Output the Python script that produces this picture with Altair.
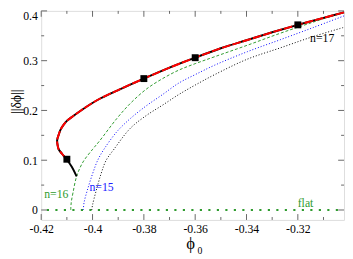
import altair as alt
import pandas as pd

# main branch (black solid, red dashed overlay down to 4th square)
main_x = [-0.302, -0.31, -0.32, -0.33, -0.34, -0.35, -0.36, -0.37, -0.38, -0.39, -0.397, -0.401,
          -0.4045, -0.4075, -0.4100, -0.4113, -0.4125, -0.4132, -0.4138, -0.4136, -0.4132, -0.4119,
          -0.4103, -0.4081, -0.4062]
main_y = [0.397, 0.386, 0.372, 0.357, 0.341, 0.325, 0.306, 0.286, 0.264, 0.241, 0.224, 0.212,
          0.200, 0.189, 0.179, 0.171, 0.161, 0.151, 0.140, 0.130, 0.122, 0.113,
          0.103, 0.087, 0.0675]
red_count = 23

n16_x = [-0.4085, -0.4083, -0.4076, -0.4062, -0.4037, -0.3999, -0.3973, -0.3905, -0.3853, -0.379,
         -0.3727, -0.3664, -0.36, -0.3524, -0.3397, -0.3269, -0.3143, -0.302]
n16_y = [0.0, 0.015, 0.035, 0.0675, 0.0965, 0.1224, 0.1385, 0.184, 0.214, 0.243,
         0.264, 0.281, 0.294, 0.308, 0.331, 0.355, 0.377, 0.398]

n15_x = [-0.4036, -0.4033, -0.4019, -0.3999, -0.398, -0.3955, -0.3904, -0.3853, -0.379, -0.3727,
         -0.3664, -0.36, -0.3524, -0.3397, -0.3269, -0.3143, -0.302]
n15_y = [0.0, 0.015, 0.042, 0.074, 0.0998, 0.1224, 0.158, 0.1836, 0.2095, 0.232,
         0.255, 0.272, 0.291, 0.318, 0.342, 0.366, 0.39]

n17_x = [-0.4003, -0.4, -0.3986, -0.3966, -0.3947, -0.3916, -0.3853, -0.379, -0.3727, -0.3664,
         -0.36, -0.3524, -0.3397, -0.3269, -0.3143, -0.302]
n17_y = [0.0, 0.01, 0.0385, 0.074, 0.0998, 0.1224, 0.164, 0.19, 0.2107, 0.232,
         0.251, 0.272, 0.303, 0.3256, 0.348, 0.367]

flat_x = [-0.4178, -0.302]
flat_y = [0.0, 0.0]

sq_x = [-0.41, -0.38, -0.36, -0.32]
sq_y = [0.102, 0.264, 0.306, 0.372]

lab_text = ["n=16", "n=15", "n=17", "flat"]
lab_x = [-0.4141, -0.3965, -0.3105, -0.317]
lab_y = [0.032, 0.046, 0.345, 0.0147]
lab_color = ["#2e9b2e", "#2020ff", "#000000", "#2e9b2e"]

x_major = [-0.42, -0.4, -0.38, -0.36, -0.34, -0.32]
x_minor = [-0.41, -0.39, -0.37, -0.35, -0.33, -0.31]
y_major = [0, 0.1, 0.2, 0.3, 0.4]
y_minor = [0.05, 0.15, 0.25, 0.35]

W, H = 310, 214
FONT = "Liberation Serif"
GREEN = "#2e9b2e"
FRAME = "#666666"
INTERP = "catmull-rom"

xs = alt.Scale(domain=[-0.42, -0.302], nice=False, zero=False)
ys = alt.Scale(domain=[-0.02, 0.4], nice=False, zero=False)

def line_df(xv, yv):
    return pd.DataFrame({"x": xv, "y": yv, "o": list(range(len(xv)))})

def enc_line(ch, first=False):
    if first:
        return ch.encode(
            x=alt.X("x:Q", scale=xs, axis=alt.Axis(values=x_major, labelExpr="'' + datum.value",
                                                  ticks=False, domain=False, grid=False, title=None,
                                                  labelFont=FONT, labelFontSize=12, labelColor="black",
                                                  labelPadding=4, labelFlush=False)),
            y=alt.Y("y:Q", scale=ys, axis=alt.Axis(values=y_major, labelExpr="'' + datum.value",
                                                  ticks=False, domain=False, grid=False, title=None,
                                                  labelFont=FONT, labelFontSize=12, labelColor="black",
                                                  labelPadding=4, labelFlush=True)),
            order="o:Q")
    return ch.encode(x=alt.X("x:Q", scale=xs), y=alt.Y("y:Q", scale=ys), order="o:Q")

flat = enc_line(alt.Chart(line_df(flat_x, flat_y)).mark_line(
    color=GREEN, strokeWidth=2.2, strokeDash=[2.2, 6.5]), first=True)
c16 = enc_line(alt.Chart(line_df(n16_x, n16_y)).mark_line(
    color=GREEN, strokeWidth=1, strokeDash=[3, 2], interpolate=INTERP))
c15 = enc_line(alt.Chart(line_df(n15_x, n15_y)).mark_line(
    color="#0000ff", strokeWidth=1, strokeDash=[1, 2], interpolate=INTERP))
c17 = enc_line(alt.Chart(line_df(n17_x, n17_y)).mark_line(
    color="black", strokeWidth=1, strokeDash=[1, 2], interpolate=INTERP))
cmain = enc_line(alt.Chart(line_df(main_x, main_y)).mark_line(
    color="black", strokeWidth=2, interpolate=INTERP))
cred = enc_line(alt.Chart(line_df(main_x[:red_count], main_y[:red_count])).mark_line(
    color="red", strokeWidth=2, strokeDash=[9, 2], interpolate=INTERP))

sq = alt.Chart(pd.DataFrame({"x": sq_x, "y": sq_y})).mark_square(
    color="black", size=50, opacity=1).encode(x=alt.X("x:Q", scale=xs), y=alt.Y("y:Q", scale=ys))

labels = alt.Chart(pd.DataFrame({"t": lab_text, "x": lab_x, "y": lab_y, "c": lab_color})).mark_text(
    font=FONT, fontSize=12, align="center", baseline="middle").encode(
    x=alt.X("x:Q", scale=xs), y=alt.Y("y:Q", scale=ys), text="t:N",
    color=alt.Color("c:N", scale=None))

def xticks(vals, length):
    d = pd.DataFrame({"x": vals})
    b = alt.Chart(d).mark_rule(color=FRAME, strokeWidth=1).encode(
        x=alt.X("x:Q", scale=xs), y=alt.value(H), y2=alt.value(H - length))
    t = alt.Chart(d).mark_rule(color=FRAME, strokeWidth=1).encode(
        x=alt.X("x:Q", scale=xs), y=alt.value(0), y2=alt.value(length))
    return [b, t]

def yticks(vals, length):
    d = pd.DataFrame({"y": vals})
    l = alt.Chart(d).mark_rule(color=FRAME, strokeWidth=1).encode(
        y=alt.Y("y:Q", scale=ys), x=alt.value(0), x2=alt.value(length))
    r = alt.Chart(d).mark_rule(color=FRAME, strokeWidth=1).encode(
        y=alt.Y("y:Q", scale=ys), x=alt.value(W), x2=alt.value(W - length))
    return [l, r]

ticks = xticks(x_major, 6) + xticks(x_minor, 3) + yticks(y_major, 6) + yticks(y_minor, 3)

titles = alt.Chart(pd.DataFrame({"t": ["||δϕ||"]})).mark_text(
    font=FONT, fontSize=14, angle=270, align="center", baseline="middle", color="black").encode(
    x=alt.value(-25), y=alt.value(93), text="t:N")
xt1 = alt.Chart(pd.DataFrame({"t": ["ϕ"]})).mark_text(
    font=FONT, fontSize=17, align="center", baseline="middle", color="black").encode(
    x=alt.value(153), y=alt.value(239), text="t:N")
xt2 = alt.Chart(pd.DataFrame({"t": ["0"]})).mark_text(
    font=FONT, fontSize=10, align="left", baseline="middle", color="black").encode(
    x=alt.value(160), y=alt.value(246), text="t:N")

chart = alt.layer(flat, c16, c15, c17, cmain, cred, sq, labels, *ticks, titles, xt1, xt2).properties(
    width=W, height=H,
    autosize=alt.AutoSizeParams(type="none"),
    padding={"left": 34, "top": 0, "right": 1, "bottom": 37},
).configure_view(stroke=FRAME, strokeWidth=1).configure(background="white")

chart.save("out.html", embed_options={"renderer": "svg", "actions": False})
